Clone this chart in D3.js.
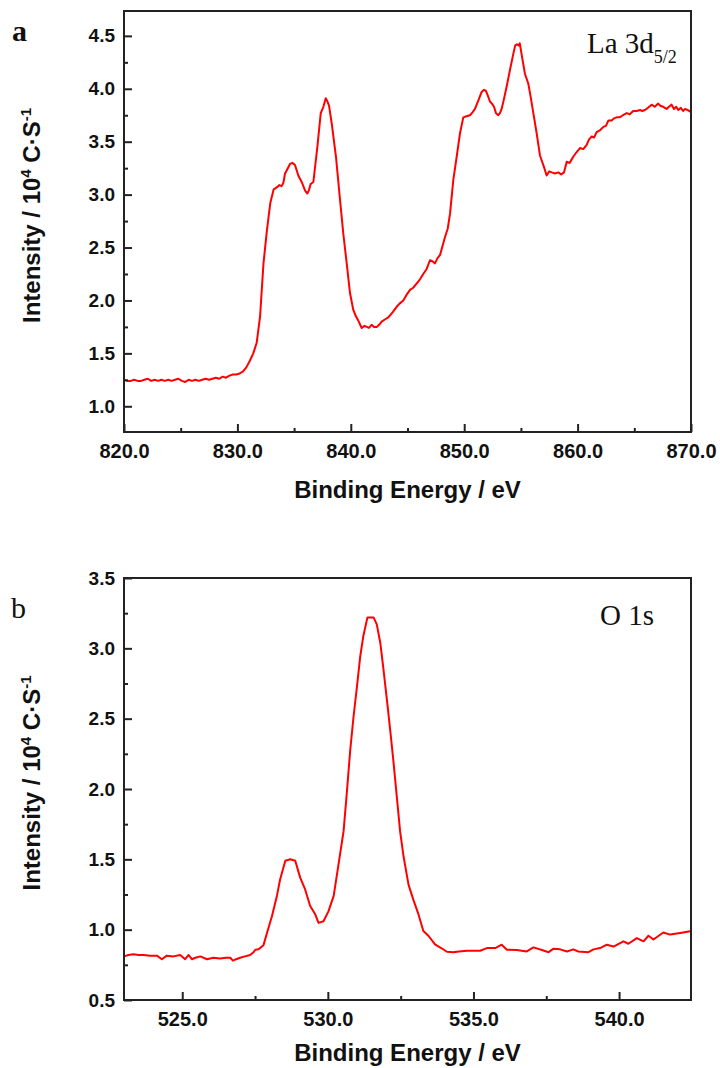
<!DOCTYPE html>
<html>
<head>
<meta charset="utf-8">
<script src="https://cdn.jsdelivr.net/npm/d3@7"></script>
<style>
  html, body { margin: 0; padding: 0; background: #fff; }
  svg { display: block; }
  .tick-label { font-family: "Liberation Sans", Arial, sans-serif; font-weight: bold; fill: #111; }
  .axis-title { font-family: "Liberation Sans", Arial, sans-serif; font-weight: bold; fill: #111; }
  .serif { font-family: "Liberation Serif", "Times New Roman", serif; fill: #111; }
</style>
</head>
<body>
<svg id="chart" width="720" height="1068"></svg>
<script>
// ---- La 3d5/2 spectrum (binding energy, eV / intensity, 10^4 counts per second)
const laEnergy = [
  820.0, 820.3, 820.6, 820.9, 821.2, 821.5, 821.8, 822.1, 822.4, 822.7,
  823.0, 823.3, 823.6, 823.9, 824.2, 824.5, 824.8, 825.1, 825.4, 825.7,
  826.0, 826.3, 826.6, 826.9, 827.2, 827.5, 827.8, 828.1, 828.4, 828.7,
  829.0, 829.3, 829.6, 829.9, 830.2, 830.5, 830.8, 831.1, 831.4, 831.7,
  832.0, 832.3, 832.6, 832.9, 833.2, 833.5, 833.7, 833.9, 834.05, 834.2,
  834.4, 834.64, 834.85, 835.08, 835.37, 835.67, 835.96, 836.17, 836.3, 836.46,
  836.7, 837.05, 837.35, 837.58, 837.79, 837.9, 838.08, 838.32, 838.69, 839.05,
  839.34, 839.64, 839.93, 840.22, 840.45, 840.66, 840.96, 841.2, 841.4, 841.6,
  841.84, 842.05, 842.28, 842.5, 842.72, 843.0, 843.31, 843.7, 844.04, 844.3,
  844.63, 844.9, 845.22, 845.5, 845.8, 846.1, 846.39, 846.7, 846.98, 847.2,
  847.42, 847.65, 847.87, 848.1, 848.31, 848.55, 848.75, 849.04, 849.34, 849.63,
  849.92, 850.2, 850.51, 850.75, 850.95, 851.25, 851.54, 851.75, 851.92, 852.1,
  852.27, 852.45, 852.63, 852.8, 853.0, 853.15, 853.3, 853.5, 853.74, 854.04,
  854.33, 854.5, 854.65, 854.8, 854.9, 855.07, 855.36, 855.65, 855.85, 856.05,
  856.39, 856.68, 857.04, 857.27, 857.5, 857.72, 858.0, 858.3, 858.55, 858.8,
  859.04, 859.3, 859.63, 859.9, 860.21, 860.5, 860.8, 861.0, 861.24, 861.45,
  861.68, 862.0, 862.27, 862.5, 862.71, 863.0, 863.2, 863.45, 863.7, 864.0,
  864.33, 864.6, 864.9, 865.21, 865.5, 865.7, 865.94, 866.2, 866.53, 866.8,
  867.11, 867.3, 867.55, 867.85, 868.05, 868.29, 868.5, 868.7, 868.88, 869.1,
  869.3, 869.47, 869.7, 870.0
];
const laIntensity = [
  1.25, 1.24, 1.24, 1.25, 1.24, 1.24, 1.25, 1.26, 1.24, 1.25,
  1.24, 1.25, 1.24, 1.25, 1.24, 1.25, 1.26, 1.24, 1.23, 1.25,
  1.24, 1.25, 1.24, 1.25, 1.26, 1.25, 1.26, 1.27, 1.26, 1.28,
  1.27, 1.29, 1.30, 1.30, 1.31, 1.33, 1.37, 1.43, 1.50, 1.60,
  1.85, 2.35, 2.66, 2.92, 3.05, 3.07, 3.09, 3.08, 3.11, 3.20,
  3.24, 3.29, 3.30, 3.28, 3.18, 3.12, 3.04, 3.01, 3.04, 3.10,
  3.12, 3.45, 3.77, 3.83, 3.91, 3.89, 3.84, 3.67, 3.36, 2.95,
  2.63, 2.35, 2.07, 1.91, 1.85, 1.81, 1.74, 1.76, 1.75, 1.74,
  1.77, 1.75, 1.75, 1.77, 1.80, 1.82, 1.84, 1.89, 1.94, 1.97,
  2.00, 2.05, 2.10, 2.12, 2.16, 2.20, 2.25, 2.30, 2.38, 2.37,
  2.35, 2.40, 2.43, 2.52, 2.60, 2.68, 2.82, 3.14, 3.36, 3.58,
  3.73, 3.74, 3.75, 3.78, 3.81, 3.89, 3.97, 3.99, 3.98, 3.93,
  3.88, 3.86, 3.83, 3.77, 3.75, 3.77, 3.81, 3.90, 4.02, 4.18,
  4.33, 4.41, 4.42, 4.41, 4.43, 4.32, 4.14, 4.05, 3.93, 3.80,
  3.58, 3.37, 3.26, 3.18, 3.22, 3.21, 3.20, 3.21, 3.19, 3.21,
  3.31, 3.30, 3.36, 3.40, 3.44, 3.43, 3.47, 3.52, 3.55, 3.54,
  3.59, 3.61, 3.64, 3.65, 3.70, 3.70, 3.72, 3.73, 3.73, 3.75,
  3.77, 3.76, 3.79, 3.79, 3.80, 3.79, 3.80, 3.82, 3.85, 3.83,
  3.86, 3.84, 3.83, 3.81, 3.83, 3.85, 3.81, 3.83, 3.80, 3.82,
  3.79, 3.81, 3.80, 3.78
];

// ---- O 1s spectrum
const oEnergy = [
  523.0, 523.15, 523.33, 523.5, 523.67, 523.9, 524.13, 524.3, 524.47, 524.7,
  524.93, 525.1, 525.22, 525.33, 525.45, 525.62, 525.85, 526.07, 526.3, 526.5,
  526.65, 526.74, 526.85, 526.99, 527.15, 527.33, 527.45, 527.51, 527.62, 527.79,
  527.91, 528.08, 528.25, 528.36, 528.54, 528.71, 528.88, 529.05, 529.22, 529.39,
  529.57, 529.68, 529.85, 530.02, 530.2, 530.37, 530.54, 530.65, 530.77, 530.88,
  531.0, 531.11, 531.22, 531.36, 531.57, 531.68, 531.8, 531.91, 532.03, 532.14,
  532.25, 532.37, 532.48, 532.6, 532.77, 532.94, 533.11, 533.28, 533.46, 533.68,
  533.92, 534.09, 534.31, 534.5, 534.77, 535.0, 535.23, 535.46, 535.75, 535.97,
  536.15, 536.49, 536.83, 537.06, 537.35, 537.58, 537.75, 537.98, 538.21, 538.43,
  538.6, 538.95, 539.12, 539.35, 539.58, 539.81, 540.15, 540.32, 540.61, 540.84,
  541.01, 541.18, 541.52, 541.75, 542.1, 542.44
];
const oIntensity = [
  0.81, 0.82, 0.826, 0.82, 0.82, 0.815, 0.815, 0.79, 0.815, 0.81,
  0.82, 0.79, 0.82, 0.79, 0.80, 0.81, 0.79, 0.80, 0.795, 0.80,
  0.80, 0.78, 0.79, 0.80, 0.81, 0.82, 0.84, 0.857, 0.86, 0.89,
  0.976, 1.095, 1.24, 1.357, 1.49, 1.50, 1.49, 1.37, 1.286, 1.17,
  1.107, 1.048, 1.06, 1.13, 1.24, 1.47, 1.70, 1.97, 2.28, 2.51,
  2.73, 2.94, 3.09, 3.22, 3.22, 3.17, 3.04, 2.85, 2.63, 2.42,
  2.20, 1.94, 1.70, 1.52, 1.32, 1.21, 1.11, 0.99, 0.955, 0.895,
  0.866, 0.843, 0.84, 0.845, 0.85, 0.85, 0.85, 0.869, 0.869, 0.893,
  0.857, 0.855, 0.845, 0.874, 0.855, 0.84, 0.865, 0.86, 0.845, 0.86,
  0.845, 0.84, 0.86, 0.869, 0.893, 0.88, 0.917, 0.90, 0.94, 0.917,
  0.957, 0.93, 0.98, 0.965, 0.976, 0.988
];

// ---- axis ticks
const laXTicks = [820, 830, 840, 850, 860, 870];
const laXMinor = [825, 835, 845, 855, 865];
const laYTicks = [1.0, 1.5, 2.0, 2.5, 3.0, 3.5, 4.0, 4.5];
const laYMinor = [1.25, 1.75, 2.25, 2.75, 3.25, 3.75, 4.25];
const oXTicks = [525, 530, 535, 540];
const oXMinor = [527.5, 532.5, 537.5];
const oYTicks = [0.5, 1.0, 1.5, 2.0, 2.5, 3.0, 3.5];
const oYMinor = [0.75, 1.25, 1.75, 2.25, 2.75, 3.25];

const svg = d3.select("#chart");

function drawPanel(opt) {
  const { left, right, top, bottom } = opt.box;
  const x = d3.scaleLinear().domain(opt.xDomain).range([left, right]);
  const y = d3.scaleLinear().domain(opt.yDomain).range([bottom, top]);
  const g = svg.append("g");

  // spectrum trace
  const pts = opt.xs.map((v, i) => [v, opt.ys[i]]);
  g.append("path")
    .datum(pts)
    .attr("fill", "none")
    .attr("stroke", "#ff0000")
    .attr("stroke-width", 2)
    .attr("stroke-linejoin", "round")
    .attr("d", d3.line().x(d => x(d[0])).y(d => y(d[1])));

  // bottom axis: major + minor inward ticks
  const xAxis = g.append("g").attr("transform", `translate(0,${bottom})`)
    .call(d3.axisBottom(x).tickValues(opt.xTicks).tickSize(-8).tickPadding(12)
      .tickFormat(d3.format(".1f")));
  xAxis.select(".domain").remove();
  xAxis.selectAll(".tick line").attr("stroke", "#222").attr("stroke-width", 2);
  xAxis.selectAll(".tick text").attr("class", "tick-label").attr("font-size", 20)
    .attr("fill", "#111");
  const xMin = g.append("g").attr("transform", `translate(0,${bottom})`)
    .call(d3.axisBottom(x).tickValues(opt.xMinor).tickSize(-4).tickFormat(""));
  xMin.select(".domain").remove();
  xMin.selectAll(".tick line").attr("stroke", "#222").attr("stroke-width", 2);

  // left axis
  const yAxis = g.append("g").attr("transform", `translate(${left},0)`)
    .call(d3.axisLeft(y).tickValues(opt.yTicks).tickSize(-8).tickPadding(9)
      .tickFormat(d3.format(".1f")));
  yAxis.select(".domain").remove();
  yAxis.selectAll(".tick line").attr("stroke", "#222").attr("stroke-width", 2);
  yAxis.selectAll(".tick text").attr("class", "tick-label").attr("font-size", 19)
    .attr("fill", "#111");
  const yMin = g.append("g").attr("transform", `translate(${left},0)`)
    .call(d3.axisLeft(y).tickValues(opt.yMinor).tickSize(-4).tickFormat(""));
  yMin.select(".domain").remove();
  yMin.selectAll(".tick line").attr("stroke", "#222").attr("stroke-width", 2);

  // frame
  g.append("rect")
    .attr("x", left).attr("y", top)
    .attr("width", right - left).attr("height", bottom - top)
    .attr("fill", "none").attr("stroke", "#222").attr("stroke-width", 2);

  // axis titles
  g.append("text").attr("class", "axis-title")
    .attr("x", (left + right) / 2).attr("y", bottom + opt.xTitleOffset)
    .attr("text-anchor", "middle").attr("font-size", 24)
    .text("Binding Energy / eV");

  const yt = g.append("text").attr("class", "axis-title")
    .attr("transform", `translate(40,${(top + bottom) / 2 - 6}) rotate(-90)`)
    .attr("text-anchor", "middle").attr("font-size", 24);
  yt.append("tspan").text("Intensity / 10");
  yt.append("tspan").attr("font-size", 15).attr("dy", -9).text("4");
  yt.append("tspan").attr("dy", 9).text(" C·S");
  yt.append("tspan").attr("font-size", 15).attr("dy", -9).text("-1");

  // panel letter
  g.append("text").attr("class", "serif")
    .attr("x", opt.letterPos[0]).attr("y", opt.letterPos[1])
    .attr("font-size", 30).attr("font-weight", opt.letterWeight).text(opt.letter);

  // spectrum name
  const nm = g.append("text").attr("class", "serif")
    .attr("x", opt.namePos[0]).attr("y", opt.namePos[1])
    .attr("font-size", 29);
  nm.append("tspan").text(opt.name);
  if (opt.sub) nm.append("tspan").attr("font-size", 18).attr("dy", 10).text(opt.sub);
}

drawPanel({
  box: { left: 124, right: 691, top: 11, bottom: 432 },
  xDomain: [820, 870], yDomain: [0.757, 4.735],
  xs: laEnergy, ys: laIntensity,
  xTicks: laXTicks, xMinor: laXMinor, yTicks: laYTicks, yMinor: laYMinor,
  letter: "a", letterPos: [12, 41], letterWeight: 600, xTitleOffset: 66,
  name: "La 3d", sub: "5/2", namePos: [587, 53]
});

drawPanel({
  box: { left: 124, right: 691, top: 578, bottom: 1000 },
  xDomain: [523.0, 542.47], yDomain: [0.5, 3.5],
  xs: oEnergy, ys: oIntensity,
  xTicks: oXTicks, xMinor: oXMinor, yTicks: oYTicks, yMinor: oYMinor,
  letter: "b", letterPos: [11, 618], letterWeight: 400, xTitleOffset: 61,
  name: "O 1s", sub: null, namePos: [600, 625]
});
</script>
</body>
</html>
